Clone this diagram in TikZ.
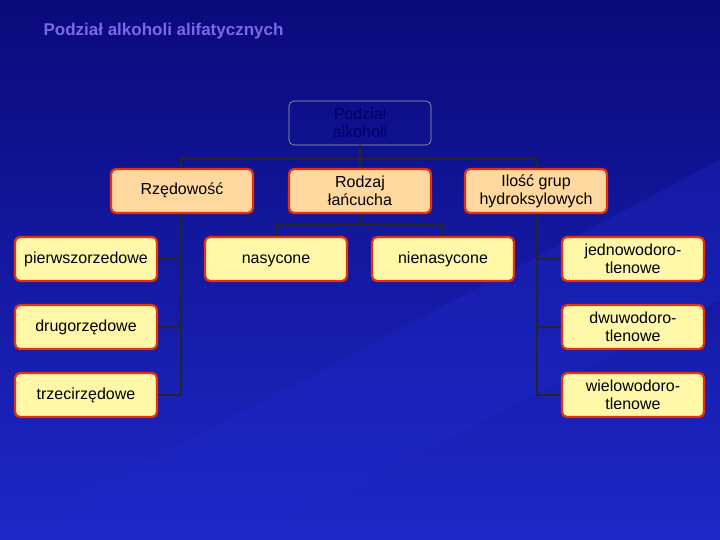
\documentclass[tikz,border=0pt]{standalone}
\usepackage{fontspec}
\setmainfont{Liberation Sans}
\begin{document}
\begin{tikzpicture}[x=1pt,y=-1pt,
  box/.style={draw=bord,line width=2.2pt,rounded corners=5pt,fill=#1,minimum width=142pt,minimum height=44pt,align=center,font=\fontsize{16}{18}\selectfont,text=black},
  box/.default={leaf},
  one/.style={text height=11pt,text depth=3pt},
  conn/.style={draw=black!85,line width=1.6pt}]
\definecolor{bgA}{HTML}{0A0A7A}\definecolor{bgB}{HTML}{1E28C8}
\definecolor{bord}{HTML}{E8300C}\definecolor{leaf}{HTML}{FFF8A8}\definecolor{peach}{HTML}{FFD8A0}
\definecolor{ttl}{HTML}{7A68E8}
\shade[left color=bgA,right color=bgB,shading angle=0] (0,0) rectangle (720,540);
\fill[bgB,opacity=0.35] (0,540) -- (720,160) -- (720,300) -- (250,540) -- cycle;
\useasboundingbox (0,0) rectangle (720,540);
\node[anchor=west,text=ttl,font=\bfseries\fontsize{17}{19}\selectfont] (title) at (40,31) {Podział alkoholi alifatycznych};
\node[draw=gray!70,rounded corners=5pt,line width=0.6pt,minimum width=142pt,minimum height=44pt,align=center,text=black!60!blue,font=\fontsize{16}{18}\selectfont] (root) at (360,123) {Podział\\alkoholi};
\node[box=peach,one] (r) at (182,191) {Rzędowość};
\node[box=peach] (l) at (360,191) {Rodzaj\\łańcucha};
\node[box=peach] (h) at (536,191) {Ilość grup\\hydroksylowych};
\node[box,one] (p1) at (86,259) {pierwszorzedowe};
\node[box,one] (p2) at (86,327) {drugorzędowe};
\node[box,one] (p3) at (86,395) {trzecirzędowe};
\node[box,one] (n1) at (276,259) {nasycone};
\node[box,one] (n2) at (443,259) {nienasycone};
\node[box] (w1) at (633,259) {jednowodoro-\\tlenowe};
\node[box] (w2) at (633,327) {dwuwodoro-\\tlenowe};
\node[box] (w3) at (633,395) {wielowodoro-\\tlenowe};
\coordinate (b1) at (181,159);\coordinate (b2) at (537,159);
\draw[conn] (root.south) -- (l.north);
\draw[conn] (r.north -| b1) -- (b1) -- (b2) -- (h.north -| b2);
\draw[conn] (l.south) -- ++(0,11) coordinate (m);
\draw[conn] (n1.north) |- (m) -| (n2.north);
\draw[conn] (r.south -| b1) |- (p3.east);
\draw[conn] (p1.east) -- (p1.east -| b1);
\draw[conn] (p2.east) -- (p2.east -| b1);
\draw[conn] (h.south -| b2) |- (w3.west);
\draw[conn] (w1.west) -- (w1.west -| b2);
\draw[conn] (w2.west) -- (w2.west -| b2);
\end{tikzpicture}
\end{document}
